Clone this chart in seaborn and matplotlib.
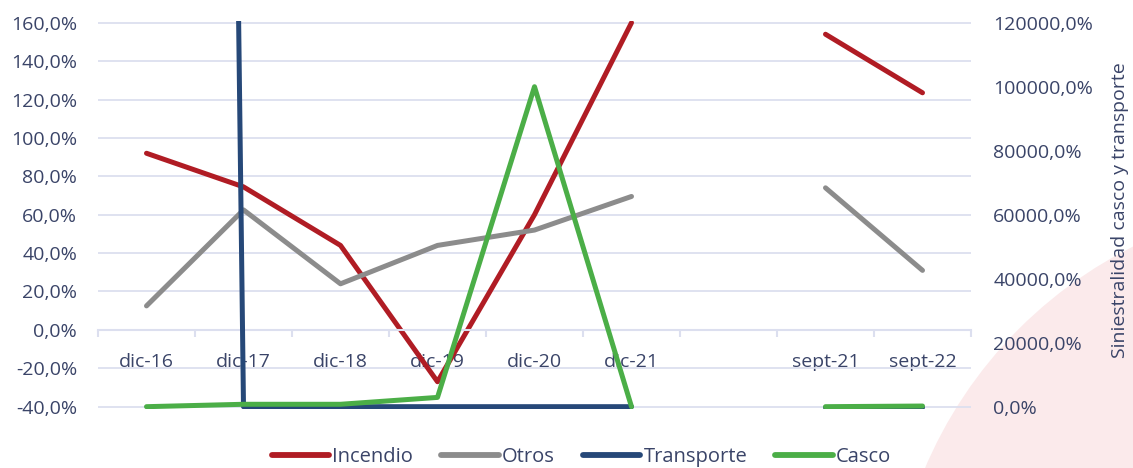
import numpy as np
import pandas as pd
import matplotlib
matplotlib.use("Agg")
import matplotlib.pyplot as plt
import seaborn as sns
from matplotlib.lines import Line2D
from matplotlib.patches import Circle
from matplotlib.transforms import IdentityTransform
from matplotlib.ticker import FuncFormatter, FixedLocator

# ---------------- data ----------------
categories = ['dic-16', 'dic-17', 'dic-18', 'dic-19', 'dic-20', 'dic-21', '', 'sept-21', 'sept-22']
incendio = [92, 74.5, 44, -27, 60, 160, np.nan, 154, 123.5]
otros = [12.5, 62.5, 24, 44, 52, 69.5, np.nan, 74, 31]
transporte = [2400000, 0, 0, 0, 0, 0, np.nan, 0, 0]
casco = [0, 750, 750, 2900, 100000, 0, np.nan, 0, 200]
left_series = ['Incendio', 'Otros']
right_series = ['Transporte', 'Casco']
left_ticks = [-40, -20, 0, 20, 40, 60, 80, 100, 120, 140, 160]
right_ticks = [0, 20000, 40000, 60000, 80000, 100000, 120000]
right_label = 'Siniestralidad casco y transporte'

colors = {'Incendio': '#b01c24', 'Otros': '#8c8c8c', 'Transporte': '#264878', 'Casco': '#4bae47'}
text_color = '#3a4468'
grid_color = '#dcdfef'

series = {'Incendio': incendio, 'Otros': otros, 'Transporte': transporte, 'Casco': casco}
rows = []
for name, vals in series.items():
    for i, v in enumerate(vals):
        if not np.isnan(v):
            rows.append(dict(pos=i, value=v, serie=name, seg=0 if i < 6 else 1))
df = pd.DataFrame(rows)

# ---------------- style ----------------
sns.set_theme(style='white')
plt.rcParams['font.family'] = ['Open Sans', 'DejaVu Sans']

W, H = 1133, 468
fig = plt.figure(figsize=(W / 100, H / 100), dpi=100)
fig.patch.set_facecolor('white')

# faint decorative circle bottom right
fig.add_artist(Circle((1330, H - 640), 440, transform=IdentityTransform(),
                      facecolor='#fbeaeb', edgecolor='none', zorder=-5))

left_px, right_px = 98, 971
top_px, bot_px = 20.8, 408.6
ax = fig.add_axes([left_px / W, (H - bot_px) / H, (right_px - left_px) / W, (bot_px - top_px) / H])
ax.set_facecolor('none')

lw = 3.6
sns.lineplot(data=df[df.serie.isin(left_series)], x='pos', y='value', hue='serie',
             hue_order=left_series, units='seg', estimator=None, palette=colors,
             lw=lw, legend=False, ax=ax, solid_capstyle='round')

ax.set_xlim(-0.5, len(categories) - 0.5)
ax.set_ylim(-41, 161)
ax.set_yticks(left_ticks)
ax.yaxis.set_major_formatter(FuncFormatter(lambda v, p: f"{v:.1f}%".replace('.', ',')))
ax.grid(axis='y', color=grid_color, lw=1.3)
ax.grid(axis='x', visible=False)
for s in ['top', 'right', 'left']:
    ax.spines[s].set_visible(False)
ax.spines['bottom'].set_position(('data', 0))
ax.spines['bottom'].set_color(grid_color)
ax.spines['bottom'].set_linewidth(1.5)
ax.set_xticks(range(len(categories)))
ax.set_xticklabels(categories)
ax.xaxis.set_minor_locator(FixedLocator(np.arange(-0.5, len(categories), 1.0)))
ax.tick_params(axis='x', which='major', length=0, pad=17, labelsize=14, labelcolor=text_color)
ax.tick_params(axis='x', which='minor', length=5, width=1.5, color=grid_color, direction='out', bottom=True)
ax.tick_params(axis='y', length=0, pad=15, labelsize=14, labelcolor=text_color)
ax.set_xlabel('')
ax.set_ylabel('')

ax2 = ax.twinx()
sns.lineplot(data=df[df.serie.isin(right_series)], x='pos', y='value', hue='serie',
             hue_order=right_series, units='seg', estimator=None, palette=colors,
             lw=lw, legend=False, ax=ax2, solid_capstyle='round')
ax2.set_ylim(-600, 120600)
ax2.set_yticks(right_ticks)
ax2.yaxis.set_major_formatter(FuncFormatter(lambda v, p: f"{v:.1f}%".replace('.', ',')))
ax2.grid(False)
for s in ax2.spines.values():
    s.set_visible(False)
ax2.tick_params(axis='y', length=0, pad=16, labelsize=14, labelcolor=text_color)
ax2.set_ylabel('')
ax2.set_xlabel('')
ax2.set_xlim(-0.5, len(categories) - 0.5)

fig.text(1120 / W, (H - 210) / H, right_label, rotation=90, ha='center', va='center',
         fontsize=14, color=text_color)

handles = [Line2D([0], [0], color=colors[n], lw=4.2, solid_capstyle='round') for n in series]
leg = fig.legend(handles, list(series.keys()), loc='center', bbox_to_anchor=(581.5 / W, (H - 457) / H),
                 ncol=4, frameon=False, fontsize=14.5, handlelength=2.85, handletextpad=0.15,
                 columnspacing=1.4, labelcolor=text_color)

fig.savefig('out.png', dpi=100)
